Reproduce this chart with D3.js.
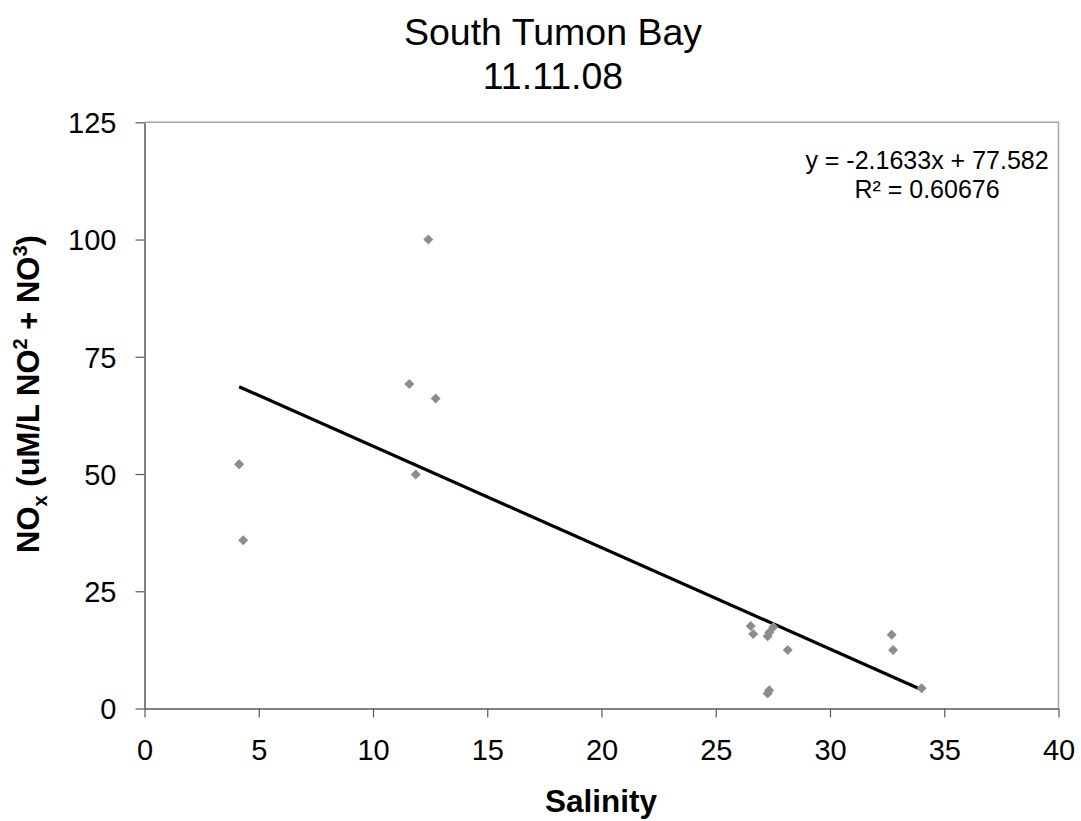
<!DOCTYPE html>
<html>
<head>
<meta charset="utf-8">
<script src="https://cdn.jsdelivr.net/npm/d3@7"></script>
<style>
  html, body { margin: 0; padding: 0; background: #fff; }
  svg text { font-family: Arial, "Liberation Sans", sans-serif; }
</style>
</head>
<body>
<svg id="chart" width="1081" height="821"></svg>
<script>
// Salinity vs NOx samples, South Tumon Bay, 11.11.08
const salinity = [4.14, 4.32, 11.59, 12.74, 11.87, 12.42,
                  26.53, 26.64, 27.27, 27.34, 27.52, 28.15, 27.34, 27.27,
                  32.70, 32.76, 34.01];
const nox      = [52.1, 35.9, 69.2, 66.1, 49.9, 100.0,
                  17.6, 15.9, 15.4, 16.2, 17.4, 12.5, 3.9, 3.2,
                  15.7, 12.5, 4.3];

// Linear trendline reported on the chart
const slope = -2.1633;
const intercept = 77.582;
const rSquared = "0.60676";

const xTicks = [0, 5, 10, 15, 20, 25, 30, 35, 40];
const yTicks = [0, 25, 50, 75, 100, 125];

const svg = d3.select("#chart");
const plotLeft = 144.5, plotRight = 1058.5, plotTop = 122.3, plotBottom = 708.5;

const x = d3.scaleLinear().domain([0, 40]).range([plotLeft, plotRight]);
const y = d3.scaleLinear().domain([0, 125]).range([plotBottom, plotTop]);

// Plot frame: light top/right edges
svg.append("path")
  .attr("d", `M${plotLeft},${plotTop}H${plotRight}V${plotBottom}`)
  .attr("fill", "none").attr("stroke", "#a6a6a6").attr("stroke-width", 1.5);

// Axes
const xAxis = svg.append("g")
  .attr("transform", `translate(0,${plotBottom})`)
  .call(d3.axisBottom(x).tickValues(xTicks).tickSize(9).tickSizeOuter(0).tickPadding(22));
const yAxis = svg.append("g")
  .attr("transform", `translate(${plotLeft},0)`)
  .call(d3.axisLeft(y).tickValues(yTicks).tickSize(9).tickSizeOuter(0).tickPadding(19));

[xAxis, yAxis].forEach(g => {
  g.select(".domain").attr("stroke", "#595959").attr("stroke-width", 1.5);
  g.selectAll(".tick line").attr("stroke", "#595959").attr("stroke-width", 1.2);
  g.selectAll(".tick text")
    .attr("fill", "#000")
    .style("font-size", "29px")
    .style("font-family", "Arial, 'Liberation Sans', sans-serif");
});
xAxis.selectAll(".tick text").attr("dy", "0.71em");
yAxis.selectAll(".tick text").attr("dy", "0.36em");

// Trendline across the sampled salinity range
const xMin = d3.min(salinity), xMax = d3.max(salinity);
svg.append("line")
  .attr("x1", x(xMin)).attr("y1", y(slope * xMin + intercept))
  .attr("x2", x(xMax)).attr("y2", y(slope * xMax + intercept))
  .attr("stroke", "#000").attr("stroke-width", 3.2);

// Sample markers (diamonds)
const diamond = d3.symbol().type(d3.symbolSquare).size(50);
svg.append("g").selectAll("path")
  .data(salinity.map((s, i) => [s, nox[i]]))
  .join("path")
  .attr("d", diamond)
  .attr("transform", d => `translate(${x(d[0])},${y(d[1])}) rotate(45)`)
  .attr("fill", "#8c8c8c");

// Title
const title = svg.append("text")
  .attr("text-anchor", "middle")
  .style("font-size", "37.5px").attr("fill", "#000");
title.append("tspan").attr("x", 553).attr("y", 45).text("South Tumon Bay");
title.append("tspan").attr("x", 553).attr("y", 89).text("11.11.08");

// Regression equation
const eq = svg.append("text")
  .attr("text-anchor", "middle")
  .style("font-size", "25px").attr("fill", "#000");
eq.append("tspan").attr("x", 927).attr("y", 169).text(`y = ${slope}x + ${intercept}`);
eq.append("tspan").attr("x", 927).attr("y", 198).text(`R² = ${rSquared}`);

// X-axis title
svg.append("text")
  .attr("x", 601).attr("y", 812)
  .attr("text-anchor", "middle")
  .style("font-size", "31.5px").style("font-weight", "bold")
  .text("Salinity");

// Y-axis title with subscript / superscripts
const yt = svg.append("text")
  .attr("transform", "translate(39,394) rotate(-90)")
  .attr("text-anchor", "middle")
  .style("font-size", "31px").style("font-weight", "bold");
yt.append("tspan").text("NO");
yt.append("tspan").attr("dy", 8).style("font-size", "20px").text("x");
yt.append("tspan").attr("dy", -8).text(" (uM/L NO");
yt.append("tspan").attr("dy", -12).style("font-size", "20px").text("2");
yt.append("tspan").attr("dy", 12).text(" + NO");
yt.append("tspan").attr("dy", -12).style("font-size", "20px").text("3");
yt.append("tspan").attr("dy", 12).text(")");
</script>
</body>
</html>
